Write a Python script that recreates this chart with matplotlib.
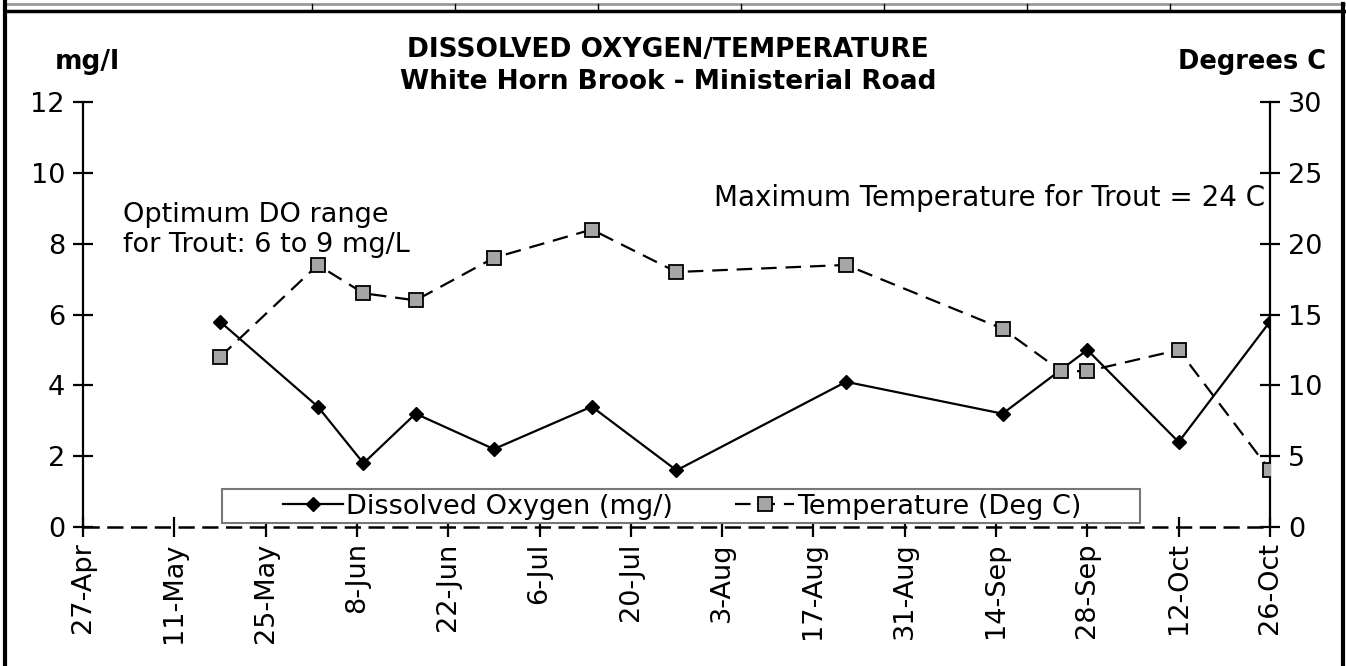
import numpy as np
import pandas as pd
import matplotlib
matplotlib.use("Agg")
import matplotlib.pyplot as plt
from matplotlib.lines import Line2D
from matplotlib.patches import Rectangle

# sample dates (year arbitrary)
do_dates = ['2004-05-18', '2004-06-02', '2004-06-09', '2004-06-17', '2004-06-29',
            '2004-07-14', '2004-07-27', '2004-08-22', '2004-09-15', '2004-09-28',
            '2004-10-12', '2004-10-26']
do_values = [5.8, 3.4, 1.8, 3.2, 2.2, 3.4, 1.6, 4.1, 3.2, 5.0, 2.4, 5.8]

temp_dates = ['2004-05-18', '2004-06-02', '2004-06-09', '2004-06-17', '2004-06-29',
              '2004-07-14', '2004-07-27', '2004-08-22', '2004-09-15', '2004-09-24',
              '2004-09-28', '2004-10-12', '2004-10-26']
temp_values = [12, 18.5, 16.5, 16, 19, 21, 18, 18.5, 14, 11, 11, 12.5, 4]

x_tick_labels = ['27-Apr', '11-May', '25-May', '8-Jun', '22-Jun', '6-Jul', '20-Jul',
                 '3-Aug', '17-Aug', '31-Aug', '14-Sep', '28-Sep', '12-Oct', '26-Oct']

plt.rcParams['font.family'] = ['DejaVu Sans']

fig = plt.figure(figsize=(13.46, 6.66), dpi=100)
ax = fig.add_axes([0.0617, 0.2087, 0.8818, 0.6381])
ax2 = ax.twinx()

do_x = pd.to_datetime(do_dates)
temp_x = pd.to_datetime(temp_dates)
ticks = pd.date_range('2004-04-27', periods=len(x_tick_labels), freq='14D')

ax.plot(do_x, do_values, color='black', lw=1.6, marker='D', ms=7.5, zorder=3)
ax2.plot(temp_x, temp_values, color='black', lw=1.6, dashes=(7, 4),
         marker='s', ms=10, mfc='#a6a6a6', mec='black', mew=1.3, zorder=3)

ax.set_xlim(ticks[0], ticks[-1])
ax.set_ylim(0, 12)
ax2.set_ylim(0, 30)
ax.set_yticks(np.arange(0, 13, 2))
ax2.set_yticks(np.arange(0, 31, 5))
ax.set_xticks(ticks)
ax.set_xticklabels(x_tick_labels, rotation=90)

ax.axhline(0, color='black', lw=1.8, dashes=(6.5, 3), clip_on=False, zorder=2)

for a in (ax, ax2):
    for s in ('top', 'bottom'):
        a.spines[s].set_visible(False)
    a.spines['left'].set_linewidth(1.6)
    a.spines['right'].set_linewidth(1.6)
    a.tick_params(direction='inout', length=14, width=1.6, labelsize=19.5, pad=6)
ax.spines['right'].set_visible(False)
ax2.spines['left'].set_visible(False)
ax.tick_params(axis='x', pad=4)

fig.text(0.4963, 0.925, 'DISSOLVED OXYGEN/TEMPERATURE', ha='center', va='center',
         fontsize=19, fontweight='bold')
fig.text(0.4963, 0.877, 'White Horn Brook - Ministerial Road', ha='center', va='center',
         fontsize=19, fontweight='bold')
fig.text(0.065, 0.907, 'mg/l', ha='center', va='center', fontsize=19, fontweight='bold')
fig.text(0.985, 0.907, 'Degrees C', ha='right', va='center', fontsize=18.5, fontweight='bold')

ax.text(0.034, 0.70, 'Optimum DO range\nfor Trout: 6 to 9 mg/L', transform=ax.transAxes,
        ha='left', va='center', fontsize=19.5, linespacing=1.2)
ax.text(0.996, 0.775, 'Maximum Temperature for Trout = 24 C', transform=ax.transAxes,
        ha='right', va='center', fontsize=20)

# legend with a separate frame
ax.add_patch(Rectangle((0.117, 0.0094), 0.7735, 0.0800, transform=ax.transAxes,
                       facecolor='white', edgecolor='#777777', lw=1.5, zorder=4, clip_on=False))
handles = [Line2D([], [], color='black', lw=1.6, marker='D', ms=7.5),
           Line2D([], [], color='black', lw=1.6, dashes=(7, 4), marker='s', ms=10,
                  mfc='#a6a6a6', mec='black', mew=1.3)]
leg = ax2.legend(handles, ['Dissolved Oxygen (mg/)', 'Temperature (Deg C)'],
                 loc='center', bbox_to_anchor=(0.505, 0.048), ncol=2, frameon=False,
                 fontsize=19.5, handlelength=2.2, handletextpad=0.1, columnspacing=2.3)
leg.set_zorder(5)

# outer frame and top table lines
fig.add_artist(Line2D([7 / 1346, 1], [1 - 4 / 666] * 2, color='#999999', lw=2))
fig.add_artist(Line2D([7 / 1346, 1], [1 - 11 / 666] * 2, color='black', lw=2.5))
for xs in [312, 455, 598, 741, 884, 1027, 1170]:
    fig.add_artist(Line2D([xs / 1346] * 2, [1 - 4 / 666, 1 - 11 / 666], color='black', lw=1))
fig.add_artist(Line2D([5 / 1346] * 2, [0, 1], color='black', lw=3))
fig.add_artist(Line2D([1343 / 1346] * 2, [0, 1 - 4 / 666], color='black', lw=3))

fig.savefig('out.png', dpi=100)
